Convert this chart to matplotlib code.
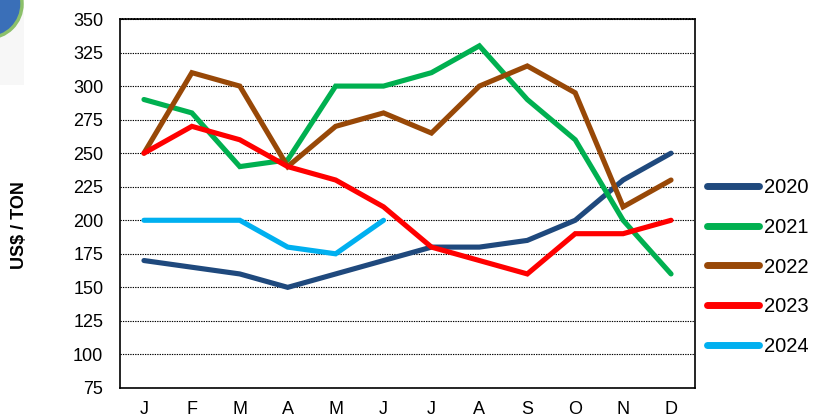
import matplotlib
matplotlib.use("Agg")
import matplotlib.pyplot as plt
from matplotlib.patches import Circle, Rectangle

# Monthly price data, US$ / ton
months = ['J', 'F', 'M', 'A', 'M', 'J', 'J', 'A', 'S', 'O', 'N', 'D']
years = ['2020', '2021', '2022', '2023', '2024']
price_2020 = [170, 165, 160, 150, 160, 170, 180, 180, 185, 200, 230, 250]
price_2021 = [290, 280, 240, 245, 300, 300, 310, 330, 290, 260, 200, 160]
price_2022 = [250, 310, 300, 240, 270, 280, 265, 300, 315, 295, 210, 230]
price_2023 = [250, 270, 260, 240, 230, 210, 180, 170, 160, 190, 190, 200]
price_2024 = [200, 200, 200, 180, 175, 200]
y_ticks = list(range(75, 351, 25))

series = [price_2020, price_2021, price_2022, price_2023, price_2024]
colors = ['#1F497D', '#00B050', '#984807', '#FF0000', '#00B0F0']

plt.rcParams['font.family'] = ['Liberation Sans', 'DejaVu Sans']

fig = plt.figure(figsize=(8.13, 4.2), dpi=100)
W, H = 813, 420
ax = fig.add_axes([120 / W, 1 - 388 / H, (695 - 120) / W, (388 - 19) / H])

x = list(range(len(months)))
for label, vals, c in zip(years, series, colors):
    ax.plot(x[:len(vals)], vals, color=c, linewidth=3.7, label=label,
            solid_capstyle='round', solid_joinstyle='miter', zorder=3)

ax.set_xlim(-0.5, 11.5)
ax.set_ylim(75, 350)
ax.set_yticks(y_ticks)
ax.set_xticks(x)
ax.set_xticklabels(months)
ax.tick_params(axis='both', length=0, labelsize=13)
ax.tick_params(axis='x', pad=9)
ax.tick_params(axis='y', pad=12)
ax.yaxis.grid(True, color='black', linestyle=(0, (1.2, 1)), linewidth=0.8)
ax.set_axisbelow(True)
for s in ax.spines.values():
    s.set_color('black')
    s.set_linewidth(1.2)
ax.spines['top'].set_linestyle((0, (1.2, 0.6)))

fig.text(20 / W, 1 - 225 / H, 'US$ / TON', rotation=90, ha='center', va='center',
         fontsize=13, fontweight='bold')

leg = fig.legend(loc='upper left', bbox_to_anchor=(699 / W, 1 - 170 / H),
                 frameon=False, fontsize=14.5, handlelength=2.6, handletextpad=0.25,
                 labelspacing=1.03, borderaxespad=0)
for line in leg.get_lines():
    line.set_linewidth(5)

# bits of the slide background: globe logo in the corner
fig.patches.append(Rectangle((0, 1 - 85 / H), 24 / W, 85 / H, transform=fig.transFigure,
                             facecolor='#F7F7F7', edgecolor='none', zorder=0))
globe = Circle((-12, H - 4), 34, transform=None, facecolor='#3A6FB8',
               edgecolor='#8CC06A', linewidth=2.5, zorder=1)
fig.patches.append(globe)

fig.savefig('out.png', dpi=100)
